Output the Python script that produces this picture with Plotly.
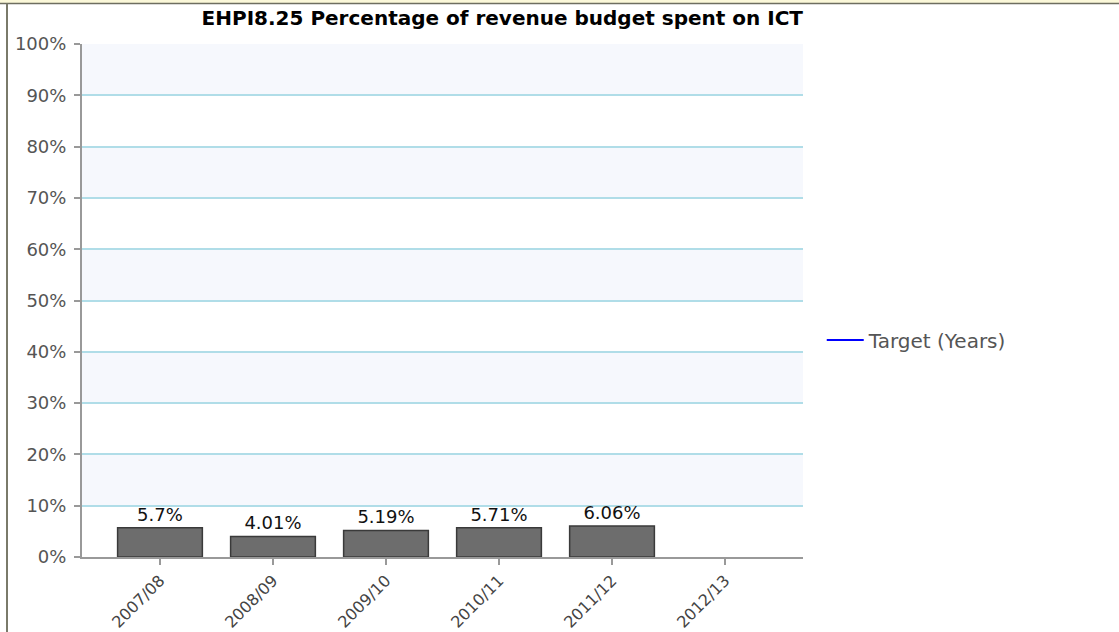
import plotly.graph_objects as go

categories = ["2007/08", "2008/09", "2009/10", "2010/11", "2011/12", "2012/13"]
values = [5.7, 4.01, 5.19, 5.71, 6.06, None]
target = [None, None, None, None, None, None]
y_ticks = [0, 10, 20, 30, 40, 50, 60, 70, 80, 90, 100]
title_text = "EHPI8.25 Percentage of revenue budget spent on ICT"

FONT = "DejaVu Sans"
W, H = 1119, 632
L, R, T, B = 82, 316, 44, 75
PW, PH = W - L - R, H - T - B

fig = go.Figure()
fig.add_trace(go.Bar(
    x=categories, y=values,
    marker=dict(color="#6d6d6d", line=dict(color="#3a3a3a", width=1.5)),
    width=0.75,
    text=[f"{v}%" if v is not None else "" for v in values],
    textposition="outside",
    textfont=dict(family=FONT, size=18, color="#111111"),
    cliponaxis=False,
    showlegend=False,
    hoverinfo="skip",
))
fig.add_trace(go.Scatter(
    x=categories, y=target, mode="lines",
    line=dict(color="#0000ff", width=2),
    name="Target (Years)",
    showlegend=True,
))

shapes = []
for lo in range(10, 100, 20):
    shapes.append(dict(type="rect", xref="paper", yref="y", x0=0, x1=1, y0=lo, y1=lo + 10,
                       fillcolor="#f6f8fd", line=dict(width=0), layer="below"))
# outer frame (top strip and left border)
shapes.append(dict(type="rect", xref="paper", yref="paper",
                   x0=-L / PW, x1=(W - L) / PW, y0=(H - B - 3.5) / PH, y1=(H - B) / PH,
                   fillcolor="#fbf8d9", line=dict(width=0), layer="above"))
shapes.append(dict(type="line", xref="paper", yref="paper",
                   x0=-L / PW, x1=(W - L) / PW, y0=(H - B - 3.5) / PH, y1=(H - B - 3.5) / PH,
                   line=dict(color="#6e6e60", width=1.5)))
shapes.append(dict(type="line", xref="paper", yref="paper",
                   x0=(7 - L) / PW, x1=(7 - L) / PW, y0=(H - B - 3.5) / PH, y1=-B / PH,
                   line=dict(color="#7a7a6a", width=2)))

fig.update_layout(
    width=W, height=H,
    margin=dict(l=L, r=R, t=T, b=B, autoexpand=False),
    paper_bgcolor="white", plot_bgcolor="white",
    font=dict(family=FONT, size=17, color="#555555"),
    title=dict(text=f"<b>{title_text}</b>", x=803 / W, xanchor="right",
               y=1 - 18 / H, yanchor="middle",
               font=dict(family=FONT, size=20, color="#000000")),
    xaxis=dict(
        type="category", range=[-0.69, 5.69], automargin=False,
        tickangle=-45, ticks="outside", ticklen=6, tickcolor="#999999", tickwidth=2,
        showline=True, linecolor="#999999", linewidth=2,
        showgrid=False,
        tickfont=dict(family=FONT, size=16, color="#444444"),
    ),
    yaxis=dict(
        range=[0, 100], tickvals=y_ticks, ticktext=[f"{t}%" for t in y_ticks],
        automargin=False,
        ticks="outside", ticklen=6, tickcolor="#999999", tickwidth=2,
        ticklabelstandoff=4,
        showline=True, linecolor="#999999", linewidth=2,
        showgrid=True, gridcolor="#b0dde8", gridwidth=2,
        zeroline=False,
        tickfont=dict(family=FONT, size=18, color="#555555"),
    ),
    legend=dict(x=1.026, y=0.423, xanchor="left", yanchor="middle",
                itemwidth=37,
                font=dict(family=FONT, size=20, color="#555555"),
                bgcolor="rgba(0,0,0,0)"),
    shapes=shapes,
)

fig.write_html("out.html", config={"displayModeBar": False},
               post_script="document.body.style.margin='0px';")
